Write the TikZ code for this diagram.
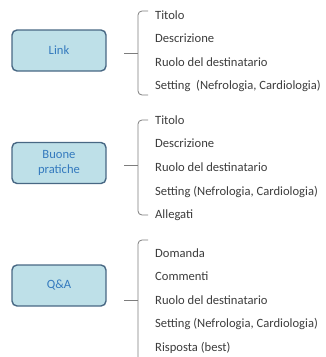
\documentclass[tikz,border=0pt]{standalone}
\usepackage{fontspec}
\setmainfont{Carlito}
\usepackage{tikz}
\usetikzlibrary{positioning}
\definecolor{boxfill}{RGB}{190,224,232}
\definecolor{boxline}{RGB}{72,104,132}
\definecolor{boxtext}{RGB}{52,122,190}
\definecolor{itemtext}{RGB}{60,60,60}
\definecolor{braceline}{RGB}{125,125,125}

\begin{document}
\begin{tikzpicture}[x=1pt,y=-1pt,
    font=\fontsize{12.6}{15}\selectfont,
    cat/.style={draw=boxline, fill=boxfill, line width=1.4pt, rounded corners=5pt,
                minimum width=94pt, minimum height=41pt, text=boxtext, align=center},
    item/.style={anchor=base west, text=itemtext, inner sep=0pt},
    brace/.style={draw=braceline, line width=0.8pt, rounded corners=4pt}]
    \useasboundingbox (0,0) rectangle (325,357);
    % Draw the category boxes
    \node[cat] (link) at (59,50.5) {Link};
    \node[cat] (buone) at (59,163) {Buone\\pratiche};
    \node[cat] (qa) at (59,285.5) {Q\&A};
    % Add the items to the right
    \foreach \txt [count=\i] in {Titolo, Descrizione, Ruolo del destinatario,
        {Setting\ \ (Nefrologia, Cardiologia)}}{
        \node[item] (link-\i) at (155,{19+23.6*(\i-1)}) {\txt};
    }
    \foreach \txt [count=\i] in {Titolo, Descrizione, Ruolo del destinatario,
        {Setting (Nefrologia, Cardiologia)}, Allegati}{
        \node[item] (buone-\i) at (155,{124+23.7*(\i-1)}) {\txt};
    }
    \foreach \txt [count=\i] in {Domanda, Commenti, Ruolo del destinatario,
        {Setting (Nefrologia, Cardiologia)}, {Risposta (best)}}{
        \node[item] (qa-\i) at (155,{257+23.5*(\i-1)}) {\txt};
    }
    % Braces
    \coordinate (link-top) at (148,11);
    \coordinate (link-bot) at (148,95);
    \coordinate (link-mid) at (124,53);
    \coordinate (buone-top) at (148,120);
    \coordinate (buone-bot) at (148,215);
    \coordinate (buone-mid) at (124,165);
    \coordinate (qa-top) at (148,240);
    \coordinate (qa-end) at (138,357);
    \coordinate (qa-mid) at (124,300);
    \draw[brace] (link-top) -- ++(-10,0) |- (link-bot);
    \draw[brace] (link-mid) -- ++(14,0);
    \draw[brace] (buone-top) -- ++(-10,0) |- (buone-bot);
    \draw[brace] (buone-mid) -- ++(14,0);
    \draw[brace] (qa-top) -| (qa-end);
    \draw[brace] (qa-mid) -- ++(14,0);
\end{tikzpicture}
\end{document}
